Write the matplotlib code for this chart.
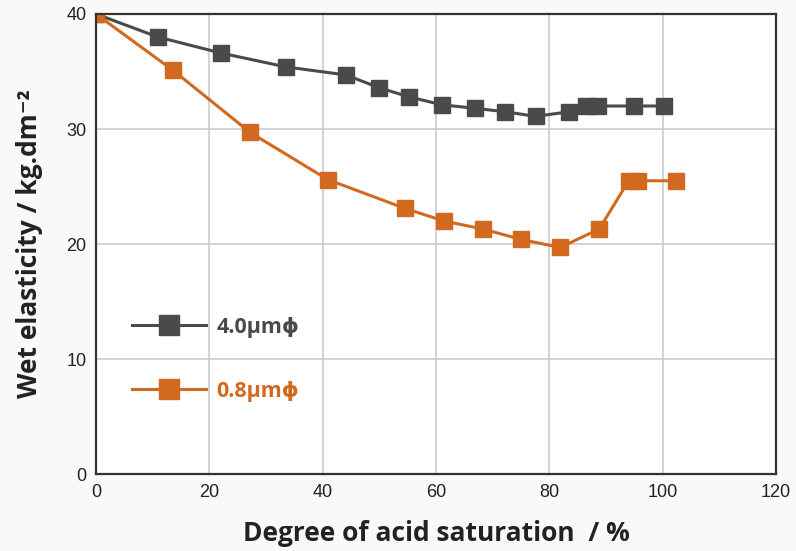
import matplotlib.pyplot as plt

# Data
x_40 = [0, 10.9, 22.1, 33.5, 44.1, 49.9, 55.2, 61.1, 66.9, 72.2, 77.6, 83.5, 86.5, 88.6, 94.9, 100.2]
y_40 = [40, 38.0, 36.6, 35.4, 34.7, 33.6, 32.8, 32.1, 31.8, 31.5, 31.1, 31.5, 32.0, 32.0, 32.0, 32.0]

x_08 = [0, 13.6, 27.2, 40.9, 54.5, 61.4, 68.3, 75.0, 81.9, 88.8, 94.0, 95.6, 102.3]
y_08 = [40, 35.1, 29.7, 25.6, 23.1, 22.0, 21.3, 20.4, 19.7, 21.3, 25.5, 25.5, 25.5]

labels = ['4.0\u03bcm\u03d5', '0.8\u03bcm\u03d5']
colors = ['#4a4a4a', '#d2691e']
x_ticks = [0, 20, 40, 60, 80, 100, 120]
y_ticks = [0, 10, 20, 30, 40]

fig = plt.figure(figsize=(7.96, 5.51), dpi=100, facecolor='#f9f9f9')
ax = fig.add_axes([0.1206, 0.1397, 0.8543, 0.8349])
ax.set_facecolor('white')

ax.plot(x_40, y_40, '-s', color=colors[0], lw=2.2, ms=12, label=labels[0])
ax.plot(x_08, y_08, '-s', color=colors[1], lw=2.2, ms=12, label=labels[1])

ax.set_xlim(0, 120)
ax.set_ylim(0, 40)
ax.set_xticks(x_ticks)
ax.set_yticks(y_ticks)
ax.grid(True, color='#cccccc', lw=1.2)
ax.set_axisbelow(True)
ax.tick_params(length=0, pad=7, labelsize=13, labelcolor='#222222')
for lab in ax.get_xticklabels() + ax.get_yticklabels():
    lab.set_fontfamily('Liberation Sans')
for s in ax.spines.values():
    s.set_color('#333333')
    s.set_linewidth(1.6)

fam = ['Open Sans', 'DejaVu Sans']
ax.set_xlabel('Degree of acid saturation  / %', fontsize=19, fontweight='bold',
              family=fam, color='#222222', labelpad=14)
ax.set_ylabel('Wet elasticity / kg.dm\u207b\u00b2', fontsize=19, fontweight='bold',
              family=fam, color='#222222', labelpad=17)

leg = ax.legend(loc='upper left', bbox_to_anchor=(0.025, 0.384), frameon=False,
                handlelength=3.4, handletextpad=0.5, labelspacing=2.0,
                labelcolor='linecolor', markerscale=1.15,
                prop={'family': fam, 'weight': 'bold', 'size': 15.5})

fig.savefig('out.png', dpi=100, facecolor=fig.get_facecolor())
